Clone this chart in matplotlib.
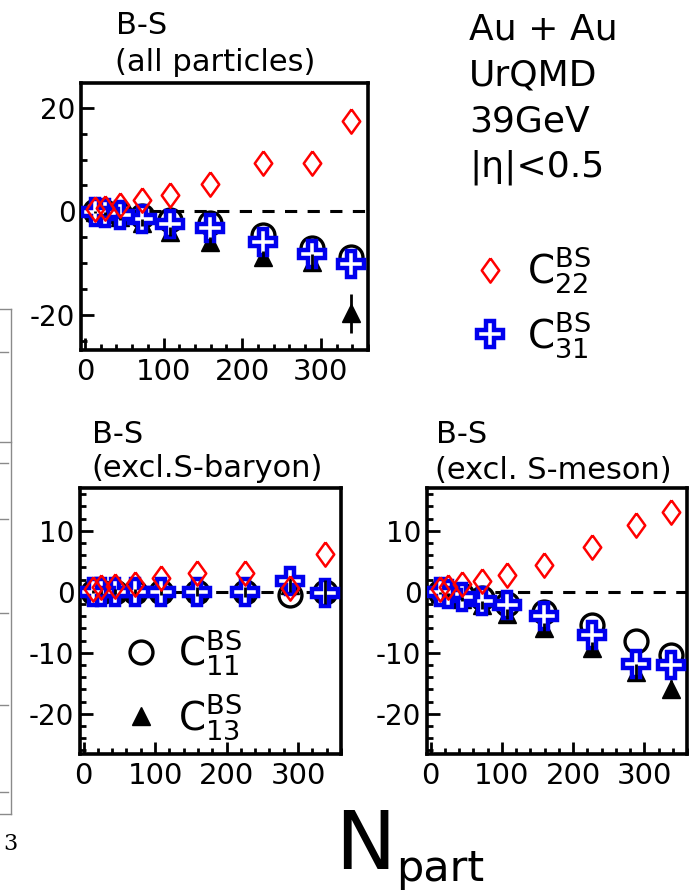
import matplotlib
matplotlib.use("Agg")
import matplotlib.pyplot as plt
from matplotlib.lines import Line2D
from matplotlib.ticker import MultipleLocator

plt.rcParams['font.family'] = ['DejaVu Sans']
plt.rcParams['mathtext.fontset'] = 'dejavusans'
plt.rcParams['axes.unicode_minus'] = False

# Centrality classes (number of participants)
npart = [338, 289, 226, 159, 108, 72, 44, 25, 13]

# B-S (all particles)
all_c22 = [17.4, 9.3, 9.3, 5.2, 3.1, 2.1, 1.2, 0.7, 0.4]
all_c11 = [-8.9, -7.0, -4.6, -2.3, -1.7, -0.9, -0.5, -0.2, 0.0]
all_c31 = [-10.1, -8.2, -5.9, -3.3, -2.5, -1.4, -0.8, -0.3, -0.1]
all_c13 = [-19.7, -9.8, -8.8, -5.9, -3.9, -2.2, -1.1, -0.4, -0.1]
all_c13_err = [3.8, 1.5, 1.2, 1.0, 0.9, 0.7, 0.5, 0.3, 0.2]

# B-S (excl. strange baryons)
xb_c22 = [6.1, 0.6, 3.0, 3.0, 2.3, 1.3, 1.0, 0.7, 0.5]
xb_c11 = [0.0, -0.5, 0.0, 0.0, 0.0, 0.0, 0.0, 0.0, 0.0]
xb_c31 = [-0.2, 1.7, 0.0, 0.0, 0.0, 0.0, 0.0, 0.0, 0.0]
xb_c13 = [0.0, 1.1, 0.0, 0.0, 0.0, 0.0, 0.0, 0.0, 0.0]
xb_c13_err = [2.0, 1.2, 0.8, 0.7, 0.6, 0.5, 0.4, 0.3, 0.2]

# B-S (excl. strange mesons)
xm_c22 = [13.0, 11.0, 7.4, 4.4, 2.8, 1.8, 1.2, 0.8, 0.4]
xm_c11 = [-10.4, -8.0, -5.4, -3.3, -2.0, -1.0, -0.5, -0.2, 0.0]
xm_c31 = [-12.0, -11.8, -7.1, -4.0, -2.2, -1.5, -0.9, -0.4, -0.1]
xm_c13 = [-15.9, -13.1, -9.3, -6.0, -3.6, -2.2, -1.2, -0.5, -0.2]
xm_c13_err = [1.5, 1.3, 1.0, 0.9, 0.8, 0.6, 0.4, 0.3, 0.2]

W, H = 695, 894
fig = plt.figure(figsize=(W / 100, H / 100), dpi=100)


def box(left, top, right, bottom):
    return [left / W, 1 - bottom / H, (right - left) / W, (bottom - top) / H]


def fx(x):
    return x / W


def fy(y):
    return 1 - y / H


diamond = [(0, 1), (0.72, 0), (0, -1), (-0.72, 0), (0, 1)]
RED = '#ff0000'
BLUE = '#0000ee'

style_c22 = dict(marker=diamond, ms=17.5, mfc='none', mec=RED, mew=1.8)
style_c11 = dict(marker='o', ms=16.5, mfc='none', mec='black', mew=2.4)
style_c13 = dict(marker='^', ms=12.5, mfc='black', mec='black')
style_c31 = dict(marker='P', ms=19, mfc='white', mec=BLUE, mew=3.2)


def draw_panel(ax, c22, c11, c31, c13, c13_err, ylim, yminor, yticks):
    ax.axhline(0, color='black', lw=2.2, dashes=(4.0, 3.4), zorder=1)
    ax.plot(npart, c11, ls='none', zorder=2, **style_c11)
    ax.plot(npart, c13, ls='none', zorder=3, **style_c13)
    ax.plot(npart, c31, ls='none', zorder=4, **style_c31)
    ax.errorbar(npart, c13, yerr=c13_err, fmt='none', ecolor='black',
                elinewidth=2.0, capsize=0, zorder=5)
    ax.plot(npart, c22, ls='none', zorder=6, **style_c22)
    ax.set_xlim(-5, 360)
    ax.set_ylim(*ylim)
    ax.set_xticks([0, 100, 200, 300])
    ax.xaxis.set_minor_locator(MultipleLocator(20))
    ax.set_yticks(yticks)
    ax.yaxis.set_minor_locator(MultipleLocator(yminor))
    ax.tick_params(which='both', direction='in', top=False, right=False,
                   width=2.0)
    ax.tick_params(which='major', length=9)
    ax.tick_params(which='minor', length=4)
    ax.tick_params(axis='x', labelsize=21, pad=6)
    ax.tick_params(axis='y', labelsize=20, pad=4)
    for s in ax.spines.values():
        s.set_linewidth(2.6)


ax1 = fig.add_axes(box(81, 83, 368, 350))
draw_panel(ax1, all_c22, all_c11, all_c31, all_c13, all_c13_err,
           (-26.8, 24.8), 5, [-20, 0, 20])
ax2 = fig.add_axes(box(80, 488, 341, 754))
draw_panel(ax2, xb_c22, xb_c11, xb_c31, xb_c13, xb_c13_err,
           (-26.6, 17.0), 2, [-20, -10, 0, 10])
ax3 = fig.add_axes(box(427, 488, 687, 754))
draw_panel(ax3, xm_c22, xm_c11, xm_c31, xm_c13, xm_c13_err,
           (-26.6, 17.0), 2, [-20, -10, 0, 10])

# Panel titles
tsize = 22
fig.text(fx(116), fy(34), 'B-S', fontsize=tsize, va='baseline')
fig.text(fx(115), fy(71), '(all particles)', fontsize=tsize, va='baseline')
fig.text(fx(92), fy(443), 'B-S', fontsize=tsize, va='baseline')
fig.text(fx(91), fy(477), '(excl.S-baryon)', fontsize=tsize, va='baseline')
fig.text(fx(436), fy(443), 'B-S', fontsize=tsize, va='baseline')
fig.text(fx(435), fy(479), '(excl. S-meson)', fontsize=tsize, va='baseline')

# System description
info = ['Au + Au', 'UrQMD', '39GeV', '|η|<0.5']
for i, line in enumerate(info):
    fig.text(fx(469), fy(40 + 45.5 * i), line, fontsize=26, va='baseline')

# Legends
lab22 = r'$\mathregular{C}^{\mathregular{BS}}_{\mathregular{22}}$'
lab31 = r'$\mathregular{C}^{\mathregular{BS}}_{\mathregular{31}}$'
lab11 = r'$\mathregular{C}^{\mathregular{BS}}_{\mathregular{11}}$'
lab13 = r'$\mathregular{C}^{\mathregular{BS}}_{\mathregular{13}}$'
h22 = Line2D([], [], ls='none', **style_c22)
h31 = Line2D([], [], ls='none', **style_c31)
h11 = Line2D([], [], ls='none', **style_c11)
h13 = Line2D([], [], ls='none', **style_c13)

leg_kw = dict(loc='upper left', frameon=False, fontsize=28, handlelength=1.0,
              handletextpad=0.45, labelspacing=0.34, borderpad=0)
fig.legend([h22, h31], [lab22, lab31], bbox_to_anchor=(fx(451), fy(225)),
           **leg_kw)
fig.legend([h11, h13], [lab11, lab13], bbox_to_anchor=(fx(102), fy(608)),
           **leg_kw)

# Common x label
fig.text(fx(335), fy(869), 'N', fontsize=58, va='baseline')
fig.text(fx(396), fy(881), 'part', fontsize=31, va='baseline')

# Edge of the neighbouring figure
edge = '#8a8a8a'
fig.add_artist(Line2D([fx(11), fx(11)], [fy(309), fy(814)], color=edge, lw=1.0))
for y in [309, 442, 814]:
    fig.add_artist(Line2D([0, fx(11)], [fy(y), fy(y)], color=edge, lw=1.0))
for y in [352, 463, 519, 613, 705, 792]:
    fig.add_artist(Line2D([0, fx(8)], [fy(y), fy(y)], color=edge, lw=1.0))
fig.text(fx(3), fy(850), '3', fontsize=16, family='DejaVu Serif',
         va='baseline')

fig.savefig('out.png', dpi=100)
